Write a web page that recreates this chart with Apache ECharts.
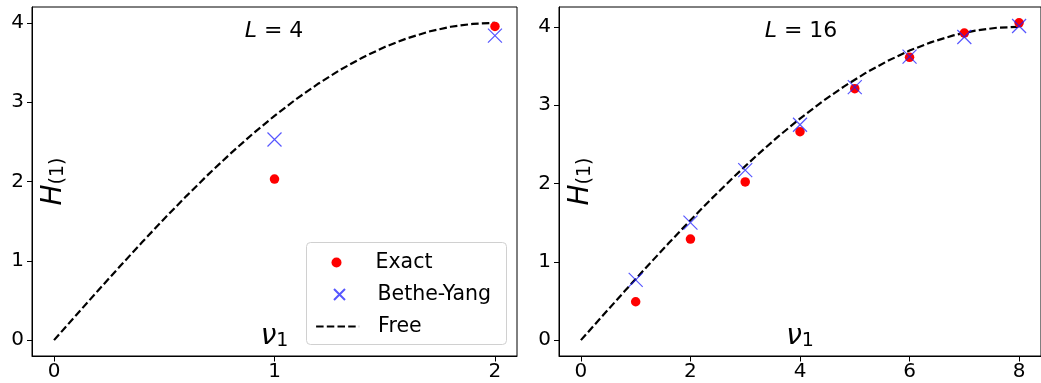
<!DOCTYPE html>
<html><head><meta charset="utf-8">
<script src="https://cdn.jsdelivr.net/npm/echarts@6/dist/echarts.min.js"></script>
<style>html,body{margin:0;padding:0;background:#fff}#c{width:1041px;height:383px}</style>
</head><body><div id="c"></div>
<script>
// ---- data ----
const nuL4 = [1, 2];
const exactL4 = [2.03, 3.955];
const betheYangL4 = [2.53, 3.84];

const nuL16 = [1, 2, 3, 4, 5, 6, 7, 8];
const exactL16 = [0.49, 1.29, 2.02, 2.66, 3.21, 3.61, 3.92, 4.05];
const betheYangL16 = [0.77, 1.50, 2.17, 2.75, 3.23, 3.62, 3.87, 4.01];

const freeNuL4 = [0, 0.1, 0.2, 0.3, 0.4, 0.5, 0.6, 0.7, 0.8, 0.9, 1.0, 1.1, 1.2, 1.3, 1.4, 1.5, 1.6, 1.7, 1.8, 1.9, 2.0];
const freeHL4 = [0, 0.314, 0.626, 0.934, 1.236, 1.531, 1.816, 2.090, 2.351, 2.598, 2.828, 3.042, 3.236, 3.411, 3.564, 3.696, 3.804, 3.890, 3.951, 3.988, 4.0];
const freeNuL16 = [0, 0.4, 0.8, 1.2, 1.6, 2.0, 2.4, 2.8, 3.2, 3.6, 4.0, 4.4, 4.8, 5.2, 5.6, 6.0, 6.4, 6.8, 7.2, 7.6, 8.0];
const freeHL16 = [0, 0.314, 0.626, 0.934, 1.236, 1.531, 1.816, 2.090, 2.351, 2.598, 2.828, 3.042, 3.236, 3.411, 3.564, 3.696, 3.804, 3.890, 3.951, 3.988, 4.0];

const xTicksL4 = [0, 1, 2];
const xTicksL16 = [0, 2, 4, 6, 8];
const yTicks = [0, 1, 2, 3, 4];
const panelLabels = ['4', '16'];
const legendNames = ['Exact', 'Bethe-Yang', 'Free'];

// ---- styling ----
const FF = "'DejaVu Sans', sans-serif";
const zip = (xs, ys) => xs.map((x, i) => [x, ys[i]]);
const richName = {
  i: { fontSize: 28, fontStyle: 'italic', fontFamily: FF, color: '#000', lineHeight: 30, verticalAlign: 'bottom' },
  s: { fontSize: 19, fontFamily: FF, color: '#000', lineHeight: 14, verticalAlign: 'bottom' }
};
const XPATH = 'path://M0,0L1,1M1,0L0,1';
const blue = 'rgba(30,30,255,0.75)';
const DASH = [7.5, 3.2];

function xAxisFor(idx, min, max, ticks) {
  return {
    type: 'value', gridIndex: idx, min: min, max: max,
    name: '{i|ν}{s|1}', nameLocation: 'middle', nameGap: -35, nameMoveOverlap: false,
    nameTextStyle: { rich: richName },
    splitLine: { show: false },
    axisLine: { onZero: false, lineStyle: { color: '#000', width: 1 } },
    axisTick: { length: 5.5, lineStyle: { color: '#000' }, customValues: ticks },
    axisLabel: { customValues: ticks, fontSize: 20, fontFamily: FF, color: '#000', margin: 6 }
  };
}
function yAxisFor(idx, min, max) {
  return {
    type: 'value', gridIndex: idx, min: min, max: max,
    name: '{i|H}{s|(1)}', nameLocation: 'middle', nameGap: -36, nameRotate: 90, nameMoveOverlap: false,
    nameTextStyle: { rich: richName },
    splitLine: { show: false },
    axisLine: { onZero: false, lineStyle: { color: '#000', width: 1 } },
    axisTick: { length: 5, lineStyle: { color: '#000' }, customValues: yTicks },
    axisLabel: { customValues: yTicks, fontSize: 20, fontFamily: FF, color: '#000', margin: 8 }
  };
}
function seriesFor(idx, fnu, fh, nu, ex, by) {
  return [
    { name: 'Free', type: 'line', xAxisIndex: idx, yAxisIndex: idx, data: zip(fnu, fh),
      symbol: 'none', smooth: false, z: 2,
      lineStyle: { color: '#000', width: 2.2, type: DASH }, itemStyle: { color: 'transparent', opacity: 0 } },
    { name: 'Exact', type: 'scatter', xAxisIndex: idx, yAxisIndex: idx, data: zip(nu, ex),
      symbol: 'circle', symbolSize: 9.5, z: 3, itemStyle: { color: '#ff0000', opacity: 1 } },
    { name: 'Bethe-Yang', type: 'scatter', xAxisIndex: idx, yAxisIndex: idx, data: zip(nu, by),
      symbol: XPATH, symbolSize: 14, z: 4,
      itemStyle: { color: 'transparent', borderColor: blue, borderWidth: 1.2, opacity: 1 } }
  ];
}
function legendFor(name, left, top, w, h, extra) {
  return Object.assign({
    data: [name], left: left, top: top, itemWidth: w, itemHeight: h, padding: 0,
    selectedMode: false, z: 6,
    textStyle: { fontSize: 20.5, fontFamily: FF, color: '#000', padding: [0, 0, 0, 14] }
  }, extra || {});
}
const titleStyle = {
  fontSize: 22, fontWeight: 'normal', fontFamily: FF, color: '#000',
  rich: { i: { fontSize: 22, fontStyle: 'italic', fontFamily: FF, color: '#000' } }
};

const option = {
  animation: false,
  backgroundColor: '#fff',
  title: [
    { text: '{i|L} = ' + panelLabels[0], left: 269, top: 15, textAlign: 'center', textStyle: titleStyle },
    { text: '{i|L} = ' + panelLabels[1], left: 796, top: 15, textAlign: 'center', textStyle: titleStyle }
  ],
  grid: [
    { left: 32, top: 7, width: 485, height: 349, show: true, borderColor: '#000', borderWidth: 1, backgroundColor: 'transparent' },
    { left: 559, top: 7, width: 486, height: 349, show: true, borderColor: '#000', borderWidth: 1, backgroundColor: 'transparent' }
  ],
  xAxis: [xAxisFor(0, -0.1, 2.1, xTicksL4), xAxisFor(1, -0.4, 8.4, xTicksL16)],
  yAxis: [yAxisFor(0, -0.2, 4.2), yAxisFor(1, -0.2025, 4.2525)],
  legend: [
    legendFor(legendNames[0], 331.5, 252, 40, 10),
    legendFor(legendNames[1], 333, 284, 38, 11),
    legendFor(legendNames[2], 315, 316, 43, 14, {
      itemStyle: { opacity: 0, color: 'transparent', borderColor: 'transparent' },
      lineStyle: { color: '#000', width: 2.2, type: DASH }
    })
  ],
  graphic: [{
    type: 'rect', z: 5, shape: { x: 306.5, y: 242.5, width: 200, height: 102, r: 4 },
    style: { fill: 'rgba(255,255,255,0.8)', stroke: '#d0d0d0', lineWidth: 1 }
  }],
  series: [].concat(
    seriesFor(0, freeNuL4, freeHL4, nuL4, exactL4, betheYangL4),
    seriesFor(1, freeNuL16, freeHL16, nuL16, exactL16, betheYangL16)
  )
};
const chart = echarts.init(document.getElementById('c'), null, { renderer: 'canvas' });
chart.setOption(option);
</script>
</body></html>
